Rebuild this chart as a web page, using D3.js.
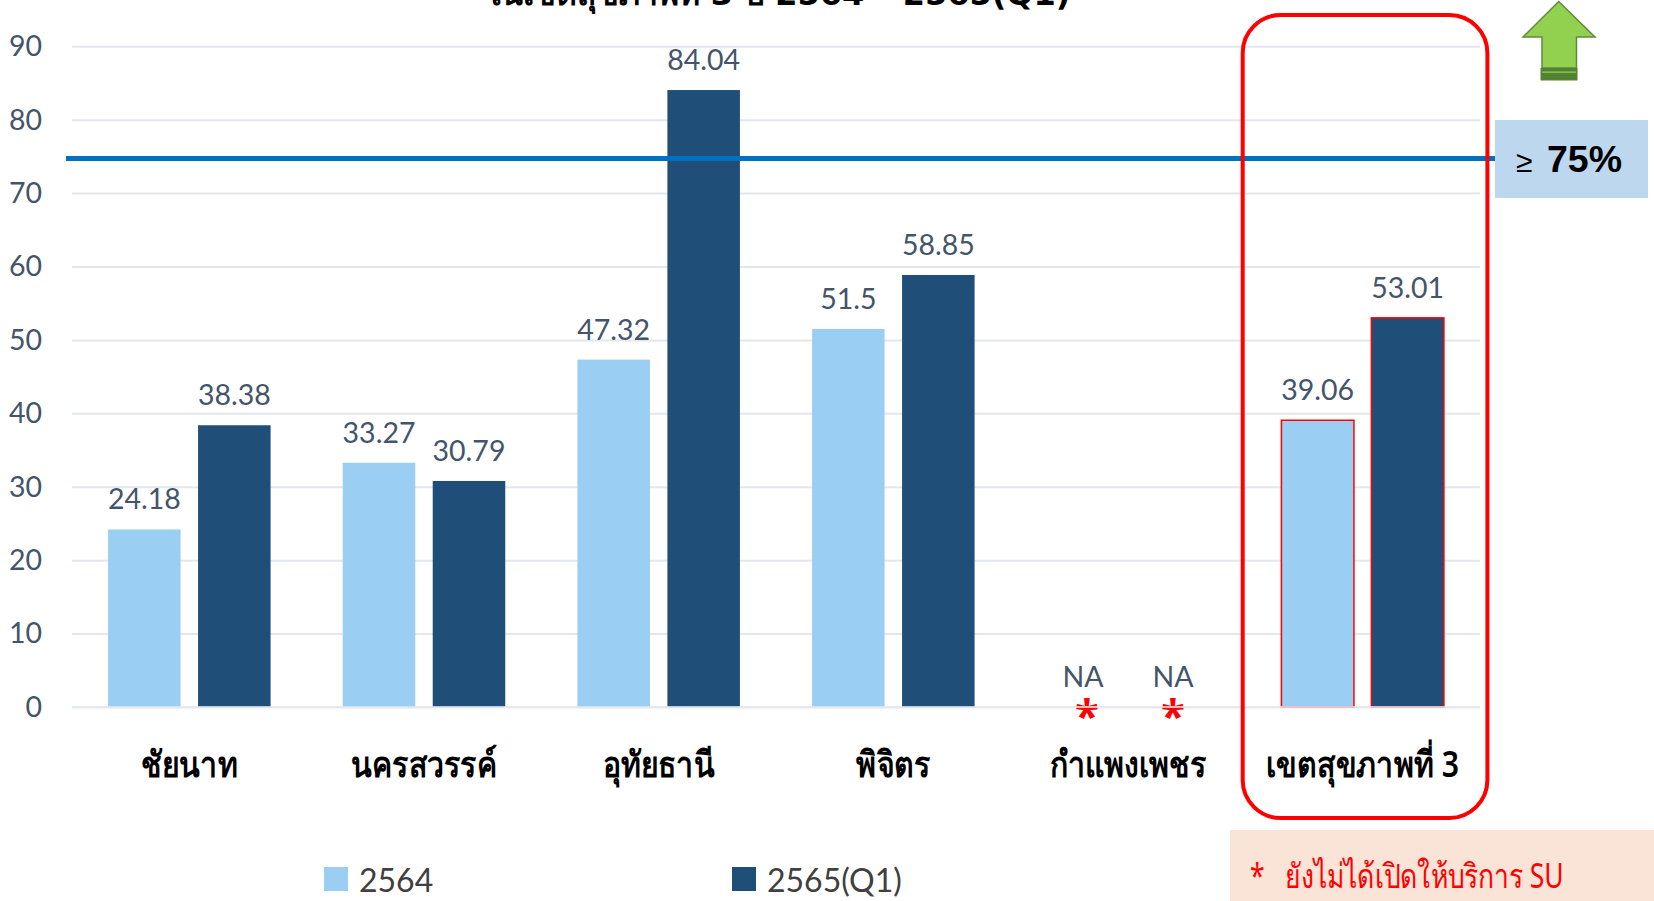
<!DOCTYPE html>
<html lang="th">
<head>
<meta charset="utf-8">
<title>ร้อยละ</title>
<script src="https://cdn.jsdelivr.net/npm/d3@7"></script>
<style>
html,body{margin:0;padding:0;background:#fff;overflow:hidden}
svg{display:block}
</style>
</head>
<body>
<svg id="chart" width="1654" height="901"></svg>
<script>
const categories = ["ชัยนาท", "นครสวรรค์", "อุทัยธานี", "พิจิตร", "กำแพงเพชร", "เขตสุขภาพที่ 3"];
const seriesNames = ["2564", "2565(Q1)"];
const values2564 = [24.18, 33.27, 47.32, 51.5, null, 39.06];
const values2565 = [38.38, 30.79, 84.04, 58.85, null, 53.01];
const yTicks = [0, 10, 20, 30, 40, 50, 60, 70, 80, 90];
const targetValue = 75;
const titleText = "ในเขตสุขภาพที่ 3 ปี 2564 – 2565(Q1)";
const footnote = "*\u00a0\u00a0\u00a0ยังไม่ได้เปิดให้บริการ SU";
const seriesColors = ["#9acef2", "#1f4e79"];

const svg = d3.select("#chart");
const latin = "Lato, 'Open Sans', sans-serif";
const thai = "'Noto Sans', 'Liberation Sans', 'DejaVu Sans', sans-serif";

const x0 = d3.scaleBand().domain(categories).range([72, 1480]).paddingInner(0.3075).paddingOuter(0.15375);
const x1 = d3.scaleBand().domain(seriesNames).range([0, x0.bandwidth()]).paddingInner(0.194);
const y = d3.scaleLinear().domain([0, 90]).range([707, 46.3]);

// horizontal grid and value axis
svg.append("g").call(d3.axisLeft(y).tickValues(yTicks).tickSize(-1408).tickPadding(0).tickFormat(d3.format("d")))
  .attr("transform", "translate(72,0)")
  .call(g => g.select(".domain").remove())
  .call(g => g.selectAll(".tick line").attr("stroke", "#e3e7ec").attr("stroke-width", 2))
  .call(g => g.selectAll(".tick text").attr("x", -30).attr("text-anchor", "end").attr("dy", "0.33em")
      .attr("fill", "#44546a").style("font-family", latin).style("font-size", "28.5px"));

// title, running off the top edge of the page
svg.append("text").attr("x", 777.5).attr("y", 5).attr("text-anchor", "middle")
  .style("font-family", "'DejaVu Sans', " + thai).style("font-weight", 700).style("font-size", "32px").text(titleText);

// paired bars per province
const rows = categories.map((c, i) => ({c, vals: [values2564[i], values2565[i]]}));
const groups = svg.append("g").selectAll("g").data(rows).join("g")
  .attr("transform", d => `translate(${x0(d.c)},0)`);
groups.selectAll("rect").data(d => d.vals.map((v, i) => ({v, s: seriesNames[i], i, c: d.c}))).join("rect")
  .filter(d => d.v !== null)
  .attr("x", d => x1(d.s)).attr("width", x1.bandwidth())
  .attr("y", d => y(d.v)).attr("height", d => y(0) - y(d.v))
  .attr("fill", d => seriesColors[d.i])
  .attr("stroke", d => d.c === categories[5] ? "#ff0000" : "none")
  .attr("stroke-width", 1.5);
groups.selectAll("text.val").data(d => d.vals.map((v, i) => ({v, s: seriesNames[i]}))).join("text")
  .attr("class", "val").attr("text-anchor", "middle")
  .attr("x", d => x1(d.s) + x1.bandwidth() / 2)
  .attr("y", d => d.v === null ? 687 : y(d.v) - 20)
  .attr("fill", "#44546a").style("font-family", latin).style("font-size", "28.5px")
  .text(d => d.v === null ? "NA" : d.v);
const starOffsets = [4, 0];
groups.filter(d => d.vals[0] === null).selectAll("text.star").data(seriesNames).join("text")
  .attr("class", "star").attr("text-anchor", "middle")
  .attr("x", (d, i) => x1(d) + x1.bandwidth() / 2 + starOffsets[i]).attr("y", 732)
  .attr("fill", "#ff0000").style("font-family", thai).style("font-weight", 700).style("font-size", "44px").text("*");

// baseline passes over the foot of the outlined bars
svg.append("line").attr("x1", 72).attr("x2", 1480).attr("y1", y(0)).attr("y2", y(0))
  .attr("stroke", "#e3e7ec").attr("stroke-width", 2).attr("stroke-opacity", 0.8);

// category labels, set tall and narrow
svg.append("g").selectAll("text").data(categories).join("text")
  .attr("transform", d => `translate(${x0(d) + x0.bandwidth() / 2},777) scale(0.84,1)`)
  .attr("text-anchor", "middle")
  .style("font-family", thai).style("font-weight", 600).style("font-size", "36px").text(d => d);

// target line, placed by hand a touch below the exact value
svg.append("line").attr("x1", 66).attr("x2", 1495).attr("y1", y(targetValue) + 2).attr("y2", y(targetValue) + 2)
  .attr("stroke", "#0070c0").attr("stroke-width", 5);

// region highlight
svg.append("rect").attr("x", 1242.7).attr("y", 15).attr("width", 244.7).attr("height", 803).attr("rx", 38)
  .attr("fill", "none").attr("stroke", "#ff0000").attr("stroke-width", 4);

// target badge
svg.append("rect").attr("x", 1495).attr("y", 120).attr("width", 153).attr("height", 78).attr("fill", "#bdd7ee");
svg.append("text").attr("x", 1516).attr("y", 172).style("font-family", "'Liberation Sans', sans-serif")
  .style("font-size", "30px").text("≥");
svg.append("text").attr("x", 1547).attr("y", 172).style("font-family", "'Liberation Sans', sans-serif")
  .style("font-weight", 700).style("font-size", "37.5px").text(targetValue + "%");

// up arrow
const arrow = [[1558.7,1.5],[1595,37],[1576.5,37],[1576.5,68],[1542,68],[1542,37],[1523,37]];
svg.append("path").attr("d", d3.line()(arrow) + "Z").attr("fill", "#92d050").attr("stroke", "#5f8b3c").attr("stroke-width", 1.5);
svg.append("rect").attr("x", 1540.5).attr("y", 68).attr("width", 37).attr("height", 12.5).attr("fill", "#548235");
svg.append("rect").attr("x", 1542).attr("y", 71.5).attr("width", 34).attr("height", 1.2).attr("fill", "#92d050");

// legend
const legendX = [324, 732];
seriesNames.forEach((s, i) => {
  svg.append("rect").attr("x", legendX[i]).attr("y", 867).attr("width", 24).attr("height", 24).attr("fill", seriesColors[i]);
  svg.append("text").attr("x", legendX[i] + 35).attr("y", 892).attr("fill", "#404040")
    .style("font-family", latin).style("font-size", "32px").text(s);
});

// footnote panel
svg.append("rect").attr("x", 1230).attr("y", 830).attr("width", 424).attr("height", 71).attr("fill", "#fae3d7");
svg.append("text").attr("transform", "translate(1250,888) scale(0.78,1)").attr("fill", "#ff0000")
  .style("font-family", thai).style("font-size", "34px").style("font-weight", 400).text(footnote);
</script>
</body>
</html>
